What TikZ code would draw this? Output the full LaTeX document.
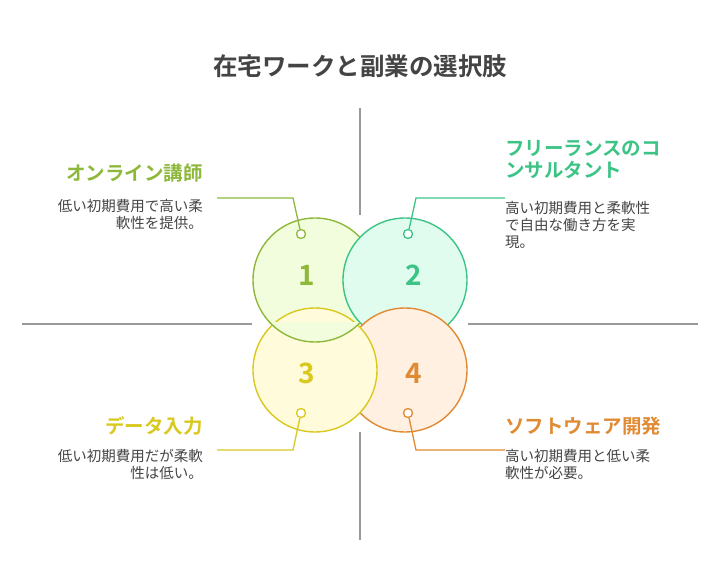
\documentclass[tikz,border=0pt]{standalone}
\usepackage{fontspec}
\setmainfont{Noto Sans CJK JP}
\newfontfamily\jpb{Noto Sans CJK JP Bold}
\definecolor{cA}{HTML}{8DB83A}\definecolor{fA}{HTML}{F2FDDD}
\definecolor{cB}{HTML}{3CC486}\definecolor{fB}{HTML}{E0FCEF}
\definecolor{cC}{HTML}{D9C81E}\definecolor{fC}{HTML}{FFFBDB}
\definecolor{cD}{HTML}{E08A33}\definecolor{fD}{HTML}{FFF0E2}
\definecolor{tx}{HTML}{444444}
\begin{document}
\begin{tikzpicture}[x=1pt,y=-1pt,
  big/.style={circle,minimum size=124pt,inner sep=0pt,line width=1.4pt},
  dot/.style={circle,minimum size=9pt,inner sep=0pt,line width=1.3pt,fill=white},
  num/.style={font=\jpb\fontsize{28}{28}\selectfont},
  head/.style={font=\jpb\fontsize{19.5}{22}\selectfont,inner sep=0pt},
  desc/.style={font=\fontsize{14.5}{17}\selectfont,text=tx,inner sep=0pt},
  axis/.style={draw=gray!80,line width=1.2pt},
  lead/.style={line width=1.3pt}]
\useasboundingbox (0,0) rectangle (721,588);
\node[font=\jpb\fontsize{24.5}{25}\selectfont,text=tx] (title) at (360,66) {在宅ワークと副業の選択肢};
\coordinate (v1) at (360,108);\coordinate (v2) at (360,215);
\coordinate (v3) at (360,432);\coordinate (v4) at (360,540);
\coordinate (h1) at (22,324);\coordinate (h2) at (252,324);
\coordinate (h3) at (468,324);\coordinate (h4) at (698,324);
\draw[axis] (v1)--(v2); \draw[axis] (v3)--(v4);
\draw[axis] (h1)--(h2); \draw[axis] (h3)--(h4);
\node[big,draw=cA,fill=fA] (c1) at (315,280) {};
\node[big,draw=cB,fill=fB] (c2) at (405,280) {};
\node[big,draw=cD,fill=fD] (c4) at (405,370) {};
\node[big,draw=cC,fill=fC] (c3) at (315,370) {};
\begin{scope}
\clip (200,323) rectangle (360,420);
\node[big,draw=cA,fill=fA] (c1b) at (315,280) {};
\end{scope}
\node[num,text=cA] at (307,275) {1};
\node[num,text=cB] at (414,275) {2};
\node[num,text=cC] at (307,373) {3};
\node[num,text=cD] at (414,373) {4};
\node[dot,draw=cA] (d1) at (301,234) {};
\node[dot,draw=cB] (d2) at (408,234) {};
\node[dot,draw=cC] (d3) at (301,413) {};
\node[dot,draw=cD] (d4) at (408,413) {};
\coordinate (e1) at (217,198);\coordinate (e2) at (505,198);
\coordinate (e3) at (217,450);\coordinate (e4) at (505,450);
\draw[lead,cA] (d1)--(293,198)--(e1);
\draw[lead,cB] (d2)--(416,198)--(e2);
\draw[lead,cC] (d3)--(293,450)--(e3);
\draw[lead,cD] (d4)--(416,450)--(e4);
\node[head,text=cA,anchor=east] (t1) at (203,173) {オンライン講師};
\node[desc,anchor=north east,align=right] (s1) at (203,199) {低い初期費用で高い柔\\軟性を提供。};
\node[head,text=cB,anchor=north west,align=left] (t2) at (505,140) {フリーランスのコ\\ンサルタント};
\node[desc,anchor=north west,align=left] (s2) at (505,201) {高い初期費用と柔軟性\\で自由な働き方を実\\現。};
\node[head,text=cC,anchor=east] (t3) at (203,426) {データ入力};
\node[desc,anchor=north east,align=right] (s3) at (203,449) {低い初期費用だが柔軟\\性は低い。};
\node[head,text=cD,anchor=west] (t4) at (505,426) {ソフトウェア開発};
\node[desc,anchor=north west,align=left] (s4) at (505,449) {高い初期費用と低い柔\\軟性が必要。};
\end{tikzpicture}
\end{document}
